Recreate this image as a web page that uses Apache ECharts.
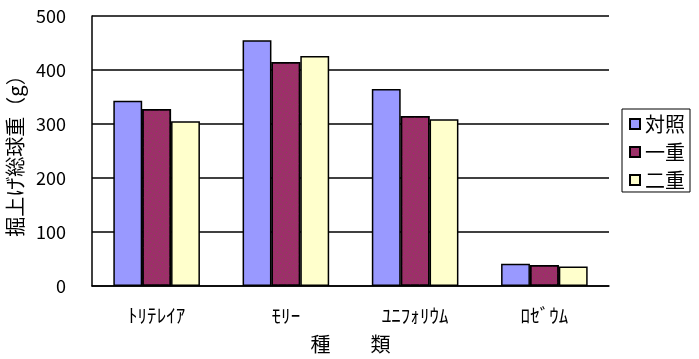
<!DOCTYPE html>
<html><head><meta charset="utf-8">
<script src="https://cdn.jsdelivr.net/npm/echarts@6/dist/echarts.min.js"></script>
<style>html,body{margin:0;padding:0;background:#fff}#c{width:699px;height:359px}</style>
</head><body><div id="c"></div>
<script>
const categories = ['ﾄﾘﾃﾚｲｱ', 'ﾓﾘｰ', 'ﾕﾆﾌｫﾘｳﾑ', 'ﾛｾﾞｳﾑ'];
const seriesNames = ['対照', '一重', '二重'];
const control = [343, 455, 365, 41];
const single = [328, 415, 315, 39];
const double = [305, 426, 309, 36];
const yTicks = [0, 100, 200, 300, 400, 500];
const colors = ['#9999FF', '#993366', '#FFFFCC'];

const FONT = '"Noto Sans CJK JP", "DejaVu Sans", sans-serif';
const chart = echarts.init(document.getElementById('c'));
const values = [control, single, double];
chart.setOption({
  animation: false,
  backgroundColor: '#fff',
  grid: { left: 92, right: 90, top: 16, bottom: 73, containLabel: false, outerBoundsMode: 'none' },
  legend: {
    orient: 'vertical', left: 622, top: 109,
    data: seriesNames,
    icon: 'rect', itemWidth: 10, itemHeight: 10, itemGap: 8, itemTextGap: 6,
    padding: [5, 5, 2, 7],
    borderColor: '#000', borderWidth: 1,
    textStyle: { fontFamily: FONT, fontSize: 20, color: '#000' }
  },
  xAxis: {
    type: 'category', data: categories,
    name: '種　　類', nameLocation: 'middle', nameGap: 48,
    nameTextStyle: { fontFamily: FONT, fontSize: 20, color: '#000' },
    axisLine: { lineStyle: { color: '#000', width: 1.5 } },
    axisTick: { inside: true, length: 5, lineStyle: { color: '#000', width: 1.5 } },
    axisLabel: { fontFamily: FONT, fontSize: 19, color: '#000', margin: 20 }
  },
  yAxis: {
    type: 'value', min: yTicks[0], max: yTicks[yTicks.length - 1], interval: 100,
    name: '掘上げ総球重（g）', nameLocation: 'middle', nameGap: 62, nameRotate: 90,
    nameTextStyle: { fontFamily: FONT, fontSize: 20, color: '#000' },
    axisLine: { show: true, lineStyle: { color: '#000', width: 1.5 } },
    axisTick: { show: false },
    axisLabel: { fontFamily: FONT, fontSize: 18, color: '#000', margin: 26,
      formatter: v => yTicks.includes(v) ? String(v) : '' },
    splitLine: { lineStyle: { color: '#000', width: 1.5 } }
  },
  series: seriesNames.map((n, i) => ({
    name: n, type: 'bar', data: values[i],
    barGap: '0%', barCategoryGap: '33%',
    itemStyle: {
      color: colors[i], borderColor: '#000', borderWidth: 1.5,
      decal: i === 1 ? { symbol: 'rect', symbolSize: 1, color: 'rgba(204,0,153,0.7)',
        dashArrayX: [[1, 3]], dashArrayY: [1, 3], rotation: 0.5 } : undefined
    }
  }))
});
</script></body></html>
